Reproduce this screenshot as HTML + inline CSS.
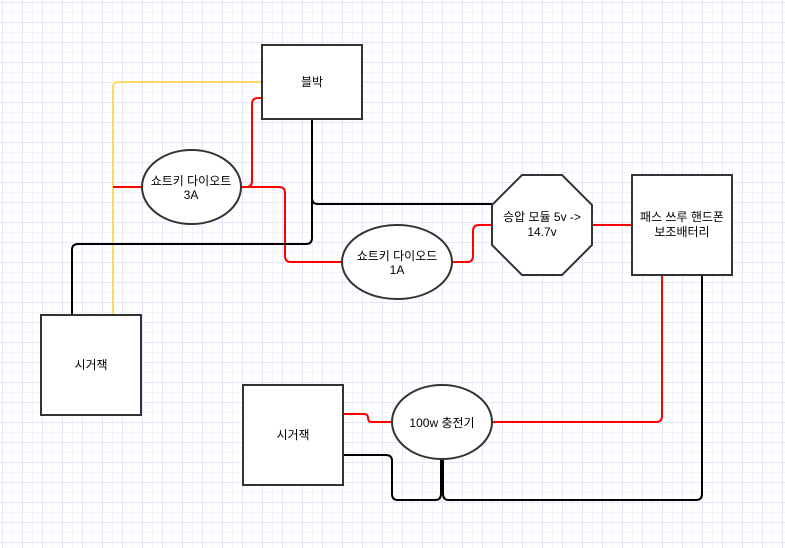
<!DOCTYPE html>
<html><head><meta charset="utf-8"><style>
html,body{margin:0;padding:0}
body{width:785px;height:548px;overflow:hidden;background-color:#fff;
background-image:
linear-gradient(to right,#e6e6fa 1px,transparent 1px),
linear-gradient(to bottom,#e6e6fa 1px,transparent 1px),
linear-gradient(to right,#f3f3fc 1px,transparent 1px),
linear-gradient(to bottom,#f3f3fc 1px,transparent 1px);
background-size:20px 20px,20px 20px,10px 10px,10px 10px;
background-position:2px 2px,2px 2px,2px 2px,2px 2px;}
svg{position:absolute;left:0;top:0}
text{font-family:"Liberation Sans","Noto Sans CJK KR",sans-serif;font-size:12px;fill:#000;text-anchor:middle}
</style></head><body>
<svg width="785" height="548" viewBox="0 0 785 548">
<g fill="none" stroke-width="2" stroke-linejoin="round">
<path d="M262 82 H119 Q113 82 113 88 V315" stroke="#ffd966"/>
<path d="M262 98 H258 Q252 98 252 104 V181 Q252 187 246 187 H241" stroke="#f00"/>
<path d="M241 187 H279 Q285 187 285 193 V256 Q285 262 291 262 H342" stroke="#f00"/>
<path d="M113 187 H142" stroke="#f00"/>
<path d="M312 119 V198 Q312 204 318 204 H492" stroke="#000"/>
<path d="M312 198 V238 Q312 244 306 244 H78 Q72 244 72 250 V315" stroke="#000"/>
<path d="M452 262 H467 Q473 262 473 256 V231 Q473 225 479 225 H492" stroke="#f00"/>
<path d="M592 225 H632" stroke="#f00"/>
<path d="M662 275 V416 Q662 422 656 422 H492" stroke="#f00"/>
<path d="M702 275 V494 Q702 500 696 500 H449 Q443 500 443 494 V460" stroke="#000"/>
<path d="M343 414 H364 Q368 414 368 418 Q368 422 372 422 H392" stroke="#f00"/>
<path d="M343 455 H386 Q392 455 392 461 V494 Q392 500 398 500 H435 Q441 500 441 494 V460" stroke="#000"/>
</g>
<g fill="#fff" stroke="#333" stroke-width="2">
<rect x="262" y="45" width="100" height="74"/>
<ellipse cx="191.5" cy="187" rx="49.5" ry="37"/>
<ellipse cx="397" cy="262" rx="55" ry="37"/>
<polygon points="522,175 562,175 592,205 592,245 562,275 522,275 492,245 492,205"/>
<rect x="632" y="175" width="100" height="100"/>
<rect x="41" y="315" width="100" height="100"/>
<rect x="243" y="385" width="100" height="100"/>
<ellipse cx="442" cy="422" rx="50" ry="37"/>
</g>
<text x="312" y="86">블박</text>
<text x="191" y="185">쇼트키 다이오트</text>
<text x="191" y="199">3A</text>
<text x="397" y="260">쇼트키 다이오드</text>
<text x="397" y="274">1A</text>
<text x="542" y="221">승압 모듈 5v -&gt;</text>
<text x="542" y="236">14.7v</text>
<text x="682" y="221">패스 쓰루 핸드폰</text>
<text x="682" y="236">보조배터리</text>
<text x="91" y="369">시거잭</text>
<text x="293" y="439">시거잭</text>
<text x="442" y="427">100w 충전기</text>
</svg>
</body></html>
